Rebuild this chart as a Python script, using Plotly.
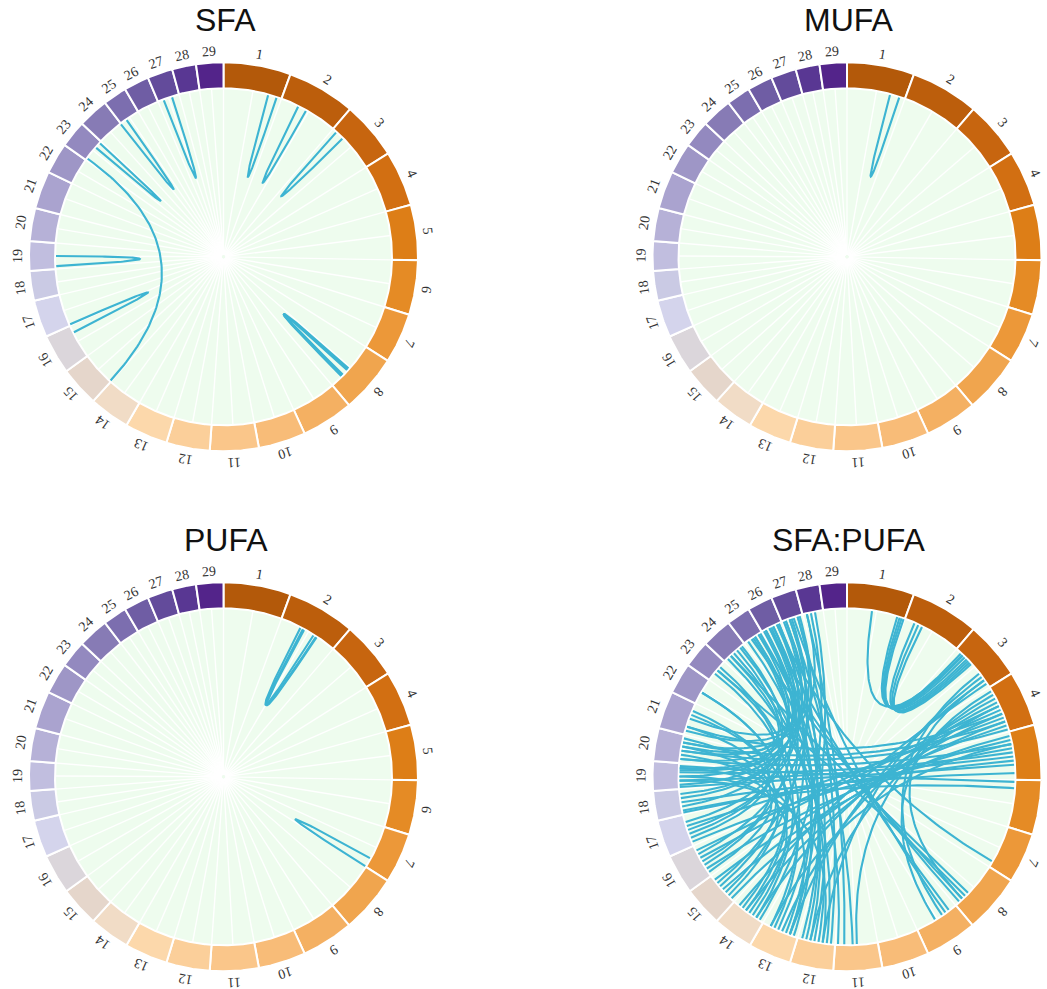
import numpy as np
import plotly.graph_objects as go

# Chromosomes drawn around each circle (lengths in Mb)
CHROMOSOMES = [str(i) for i in range(1, 30)]
CHROM_LENGTH_MB = [141, 143, 121, 116, 116, 114, 105, 122, 109, 99,
                   102, 91, 90, 85, 83, 83, 78, 62, 62, 69,
                   79, 65, 57, 64, 50, 53, 53, 50, 57]

RING_COLORS = ["#B3590A", "#BC5E0C", "#C7650F", "#D26F12", "#DD7E17",
               "#E58B25", "#EC9839", "#F0A54E", "#F4B062", "#F8BC78",
               "#FAC68A", "#FBCF9A", "#FCD8AB", "#F1DCC6", "#E5D6CB",
               "#DBD6DB", "#D4D4EC", "#CACAE4", "#C1BEDF", "#B6B1D7",
               "#AAA3CF", "#9E96C6", "#9389BF", "#877BB5", "#7C6EAF",
               "#6F5DA4", "#634B9B", "#593793", "#53248A"]

PANEL_TITLES = ["SFA", "MUFA", "PUFA", "SFA:PUFA"]

# Links: (chromosome A, position A in Mb, chromosome B, position B in Mb)
SFA_LINKS = [
    (1, 108, 1, 129), (2, 44, 2, 65), (3, 11, 3, 32),
    (8, 66, 8, 86), (8, 69, 8, 89), (8, 71, 8, 91),
    (19, 7, 19, 31), (16, 65, 17, 3), (15, 2, 23, 5),
    (23, 38, 23, 52), (24, 63, 25, 16), (27, 14, 27, 35),
]
MUFA_LINKS = [(1, 104, 1, 127)]
PUFA_LINKS = [
    (2, 50, 2, 93), (2, 57, 2, 86), (2, 60, 2, 95),
    (7, 82, 7, 104),
]
SFA_PUFA_LINKS = [
    # chr1-3 loops
    (1, 60, 3, 20), (1, 122, 3, 15), (1, 128, 3, 22), (1, 133, 3, 28),
    (1, 138, 3, 35), (2, 25, 3, 40), (2, 35, 3, 45), (2, 45, 3, 50),
    # chr3/4 to chr8/9
    (3, 80, 9, 40), (4, 10, 9, 60), (3, 100, 8, 100),
    # left hub: chr15-21 to chr23-28
    (18, 20, 26, 10), (18, 40, 26, 30), (19, 10, 27, 10), (19, 30, 27, 25),
    (19, 50, 25, 30), (20, 10, 25, 40), (20, 30, 26, 20), (20, 50, 28, 10),
    (21, 10, 27, 40), (21, 40, 26, 40), (17, 40, 27, 5), (17, 60, 26, 45),
    (15, 30, 26, 5), (15, 60, 27, 20), (16, 30, 25, 25), (16, 60, 27, 45),
    (17, 30, 24, 40), (18, 50, 24, 55), (19, 45, 23, 30), (20, 40, 24, 20),
    # top-left to bottom
    (24, 10, 12, 20), (24, 30, 12, 40), (24, 50, 13, 10), (25, 10, 12, 60),
    (25, 30, 12, 70), (26, 10, 13, 30), (26, 30, 12, 80), (27, 20, 11, 60),
    (27, 40, 12, 10), (28, 10, 11, 80), (28, 30, 13, 50), (23, 20, 14, 20),
    (23, 40, 13, 70), (22, 30, 14, 50), (25, 45, 11, 95), (26, 45, 12, 50),
    (27, 10, 13, 20), (28, 20, 14, 10), (26, 25, 14, 40),
    # bottom-left to right
    (14, 20, 4, 40), (14, 50, 4, 70), (15, 10, 4, 90), (15, 40, 5, 10),
    (15, 70, 4, 100), (16, 20, 5, 20), (16, 50, 4, 60), (17, 10, 5, 40),
    (13, 40, 4, 30), (13, 70, 5, 30), (14, 70, 3, 110),
    (17, 50, 4, 80), (18, 5, 5, 70), (16, 70, 4, 50),
    # left to right across the middle
    (18, 10, 6, 20), (18, 30, 5, 100), (19, 5, 5, 80), (19, 20, 5, 60),
    (19, 40, 5, 50), (20, 10, 5, 30), (20, 30, 4, 110), (20, 50, 4, 90),
    (21, 20, 4, 70), (19, 55, 6, 5),
    # top-left to bottom-right
    (24, 20, 8, 80), (25, 20, 8, 100), (26, 20, 9, 20), (27, 30, 9, 30),
    (25, 40, 8, 110), (23, 30, 8, 90), (26, 40, 7, 90),
    # along the left side
    (13, 20, 20, 20), (14, 30, 19, 30), (15, 20, 20, 40), (15, 50, 21, 20),
    (16, 10, 19, 50), (16, 40, 20, 60), (17, 20, 21, 50), (14, 60, 22, 30),
    (13, 60, 21, 60), (12, 30, 19, 20),
    # bottom to upper right
    (11, 50, 4, 20), (12, 30, 3, 90), (12, 60, 4, 50), (13, 20, 3, 100),
]
PANEL_LINKS = [SFA_LINKS, MUFA_LINKS, PUFA_LINKS, SFA_PUFA_LINKS]

# Page layout (pixel units)
W, H = 1047, 989
CENTERS = [(223.5, 256.8), (847.0, 256.8), (223.5, 776.8), (847.0, 776.8)]
R_OUT, R_IN, R_LABEL = 194.5, 168.5, 205.5
DISK_COLOR = "#EEFCEE"
LINK_COLOR = "#3DB4D2"

total = float(sum(CHROM_LENGTH_MB))
starts = np.concatenate([[0.0], np.cumsum(CHROM_LENGTH_MB)[:-1]])


def to_angle(chrom, pos):
    return (starts[chrom - 1] + pos) / total * 360.0


def polar_xy(cx, cy, r, deg):
    t = np.radians(deg)
    return cx + r * np.sin(t), cy - r * np.cos(t)


fig = go.Figure()
annotations = []

for (cx, cy), title, links in zip(CENTERS, PANEL_TITLES, PANEL_LINKS):
    # background disk
    th = np.linspace(0, 360, 361)
    x, y = polar_xy(cx, cy, R_IN, th)
    fig.add_trace(go.Scatter(x=x, y=y, mode="lines", fill="toself",
                             fillcolor=DISK_COLOR, line=dict(width=0),
                             hoverinfo="skip"))
    # radial guide lines at chromosome boundaries and midpoints
    rx, ry = [], []
    for i, L in enumerate(CHROM_LENGTH_MB):
        for frac in (0.0, 0.5):
            a = to_angle(i + 1, L * frac)
            x0, y0 = polar_xy(cx, cy, 2, a)
            x1, y1 = polar_xy(cx, cy, R_IN, a)
            rx += [x0, x1, None]
            ry += [y0, y1, None]
    fig.add_trace(go.Scatter(x=rx, y=ry, mode="lines",
                             line=dict(color="rgba(255,255,255,0.95)", width=1.4),
                             hoverinfo="skip"))
    # chromosome ring
    for i, L in enumerate(CHROM_LENGTH_MB):
        a0, a1 = to_angle(i + 1, 0), to_angle(i + 1, L)
        th = np.linspace(a0, a1, 40)
        xo, yo = polar_xy(cx, cy, R_OUT, th)
        xi, yi = polar_xy(cx, cy, R_IN, th[::-1])
        fig.add_trace(go.Scatter(x=np.r_[xo, xi, xo[:1]], y=np.r_[yo, yi, yo[:1]],
                                 mode="lines", fill="toself",
                                 fillcolor=RING_COLORS[i],
                                 line=dict(color="white", width=2),
                                 hoverinfo="skip"))
        am = (a0 + a1) / 2
        lx, ly = polar_xy(cx, cy, R_LABEL, am)
        ang = am if am <= 180 else am - 360
        annotations.append(dict(x=lx, y=ly, xref="x", yref="y", text=CHROMOSOMES[i],
                                showarrow=False, textangle=ang,
                                font=dict(family="Liberation Serif", size=14,
                                          color="#333333")))
    # links: quadratic Bezier curves pulled through the circle centre
    t = np.linspace(0, 1, 80)
    lxs, lys = [], []
    for ca, pa, cb, pb in links:
        x0, y0 = polar_xy(cx, cy, R_IN - 1, to_angle(ca, pa))
        x2, y2 = polar_xy(cx, cy, R_IN - 1, to_angle(cb, pb))
        bx = (1 - t) ** 2 * x0 + 2 * (1 - t) * t * cx + t ** 2 * x2
        by = (1 - t) ** 2 * y0 + 2 * (1 - t) * t * cy + t ** 2 * y2
        lxs += list(bx) + [None]
        lys += list(by) + [None]
    fig.add_trace(go.Scatter(x=lxs, y=lys, mode="lines",
                             line=dict(color=LINK_COLOR, width=2.1),
                             hoverinfo="skip"))
    annotations.append(dict(x=cx + 2, y=cy - 237, xref="x", yref="y", text=title,
                            showarrow=False,
                            font=dict(family="Liberation Sans", size=32, color="#111111")))

fig.update_layout(
    width=W, height=H, margin=dict(l=0, r=0, t=0, b=0),
    paper_bgcolor="white", plot_bgcolor="white", showlegend=False,
    xaxis=dict(range=[0, W], visible=False, fixedrange=True),
    yaxis=dict(range=[H, 0], visible=False, fixedrange=True),
    annotations=annotations,
)
fig.write_html("out.html", config={"displayModeBar": False})
